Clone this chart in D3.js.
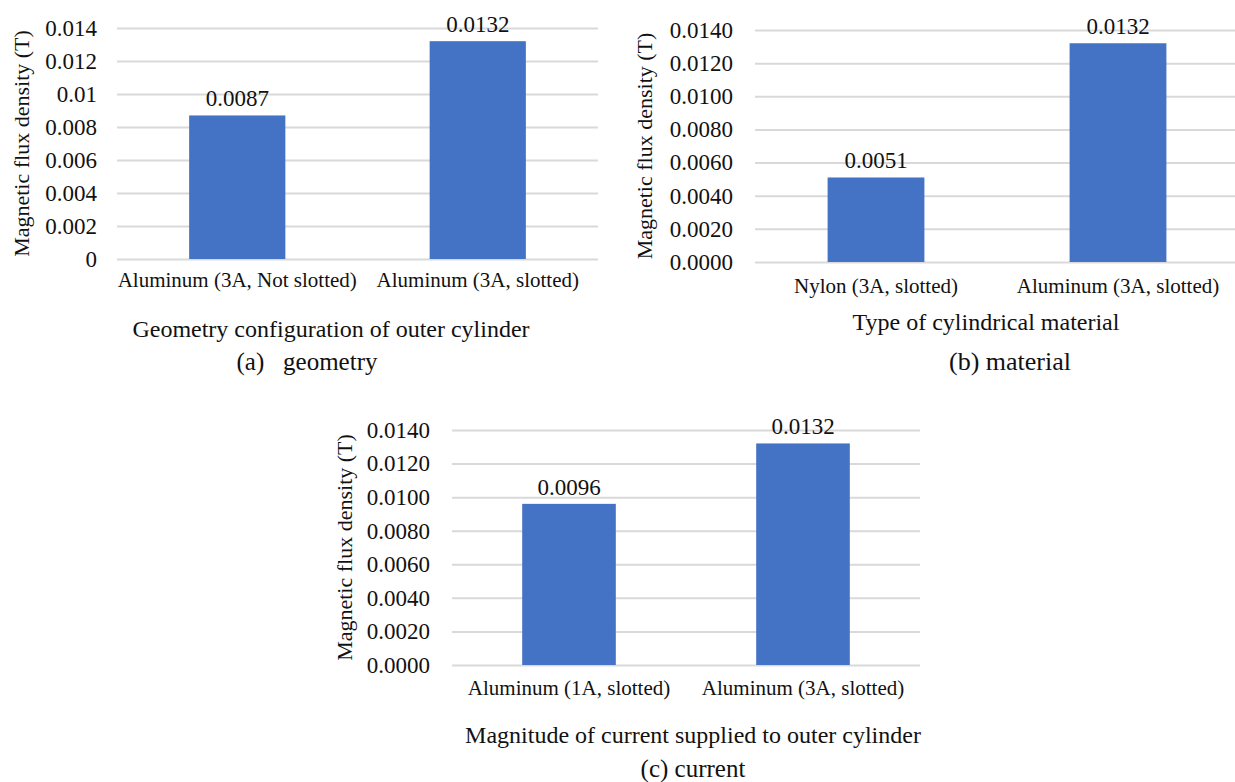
<!DOCTYPE html>
<html>
<head>
<meta charset="utf-8">
<script src="https://cdn.jsdelivr.net/npm/d3@7"></script>
<style>
  body { margin: 0; background: #fff; }
  text { font-family: "Liberation Serif", "Times New Roman", serif; fill: #111; }
</style>
</head>
<body>
<svg id="chart" width="1235" height="782"></svg>
<script>
// values
const geometryCats = ["Aluminum (3A, Not slotted)", "Aluminum (3A, slotted)"];
const geometryVals = [0.0087, 0.0132];
const geometryTicks = [0, 0.002, 0.004, 0.006, 0.008, 0.01, 0.012, 0.014];

const materialCats = ["Nylon (3A, slotted)", "Aluminum (3A, slotted)"];
const materialVals = [0.0051, 0.0132];
const materialTicks = [0, 0.002, 0.004, 0.006, 0.008, 0.010, 0.012, 0.014];

const currentCats = ["Aluminum (1A, slotted)", "Aluminum (3A, slotted)"];
const currentVals = [0.0096, 0.0132];
const currentTicks = [0, 0.002, 0.004, 0.006, 0.008, 0.010, 0.012, 0.014];

const yTitle = "Magnetic flux density (T)";

const svg = d3.select("#chart");

function drawPanel(p) {
    const g = svg.append("g");

    const x = d3.scaleBand()
        .domain(p.cats)
        .range([p.left, p.right])
        .paddingInner(0.6)
        .paddingOuter(0.3);

    const y = d3.scaleLinear()
        .domain([0, 0.014])
        .range([p.bottom, p.top]);

    // gridlines
    g.append("g")
        .attr("transform", "translate(" + p.left + ",0)")
        .call(d3.axisLeft(y).tickValues(p.ticks).tickSize(-(p.right - p.left)).tickFormat(""))
        .call(a => a.select(".domain").remove())
        .call(a => a.selectAll("line").attr("stroke", "#d9d9d9").attr("stroke-width", 2));

    // tick labels
    g.append("g")
        .attr("transform", "translate(" + p.left + ",0)")
        .call(d3.axisLeft(y).tickValues(p.ticks).tickSize(0).tickPadding(p.tickPad).tickFormat(p.fmt))
        .call(a => a.select(".domain").remove())
        .call(a => a.selectAll("text")
            .style("font-family", "Liberation Serif")
            .style("font-size", "23px")
            .attr("fill", "#111"));

    // bars
    g.selectAll("rect")
        .data(p.vals)
        .enter()
        .append("rect")
        .attr("x", (d, i) => x(p.cats[i]))
        .attr("y", d => y(d))
        .attr("width", x.bandwidth())
        .attr("height", d => y(0) - y(d))
        .attr("fill", "#4472c4");

    // value labels
    g.selectAll(".val")
        .data(p.vals)
        .enter()
        .append("text")
        .attr("class", "val")
        .attr("x", (d, i) => x(p.cats[i]) + x.bandwidth() / 2)
        .attr("y", d => y(d) - 9)
        .attr("text-anchor", "middle")
        .style("font-size", "23px")
        .text(d => d.toFixed(4));

    // category labels
    g.append("g")
        .attr("transform", "translate(0," + p.bottom + ")")
        .call(d3.axisBottom(x).tickSize(0).tickPadding(p.catPad))
        .call(a => a.select(".domain").remove())
        .call(a => a.selectAll("text")
            .style("font-family", "Liberation Serif")
            .style("font-size", "21px")
            .attr("fill", "#111"));

    // axis titles
    g.append("text")
        .attr("x", p.xTitleX)
        .attr("y", p.xTitleY)
        .attr("text-anchor", "middle")
        .style("font-size", "24px")
        .text(p.xTitle);

    g.append("text")
        .attr("transform", "translate(" + p.yTitleX + "," + (p.top + p.bottom) / 2 + ") rotate(-90)")
        .attr("text-anchor", "middle")
        .style("font-size", "22px")
        .text(yTitle);

    // caption
    g.append("text")
        .attr("x", p.capX)
        .attr("y", p.capY)
        .attr("text-anchor", "middle")
        .attr("xml:space", "preserve")
        .style("white-space", "pre")
        .style("font-size", p.capSize + "px")
        .text(p.caption);
}

drawPanel({
    cats: geometryCats, vals: geometryVals, ticks: geometryTicks,
    fmt: d => d === 0 ? "0" : d3.format("")(+d.toFixed(3)),
    left: 117, right: 598, top: 28, bottom: 259, tickPad: 20, catPad: 13,
    xTitle: "Geometry configuration of outer cylinder", xTitleX: 331, xTitleY: 337,
    yTitleX: 29, caption: "(a)   geometry", capX: 307, capY: 370, capSize: 25
});

drawPanel({
    cats: materialCats, vals: materialVals, ticks: materialTicks,
    fmt: d3.format(".4f"),
    left: 755, right: 1239, top: 30, bottom: 262, tickPad: 22, catPad: 16,
    xTitle: "Type of cylindrical material", xTitleX: 986, xTitleY: 330,
    yTitleX: 652, caption: "(b) material", capX: 1010, capY: 370, capSize: 26
});

drawPanel({
    cats: currentCats, vals: currentVals, ticks: currentTicks,
    fmt: d3.format(".4f"),
    left: 452, right: 920, top: 430, bottom: 665, tickPad: 22, catPad: 15,
    xTitle: "Magnitude of current supplied to outer cylinder", xTitleX: 693, xTitleY: 743,
    yTitleX: 352, caption: "(c) current", capX: 693, capY: 777, capSize: 25
});
</script>
</body>
</html>
